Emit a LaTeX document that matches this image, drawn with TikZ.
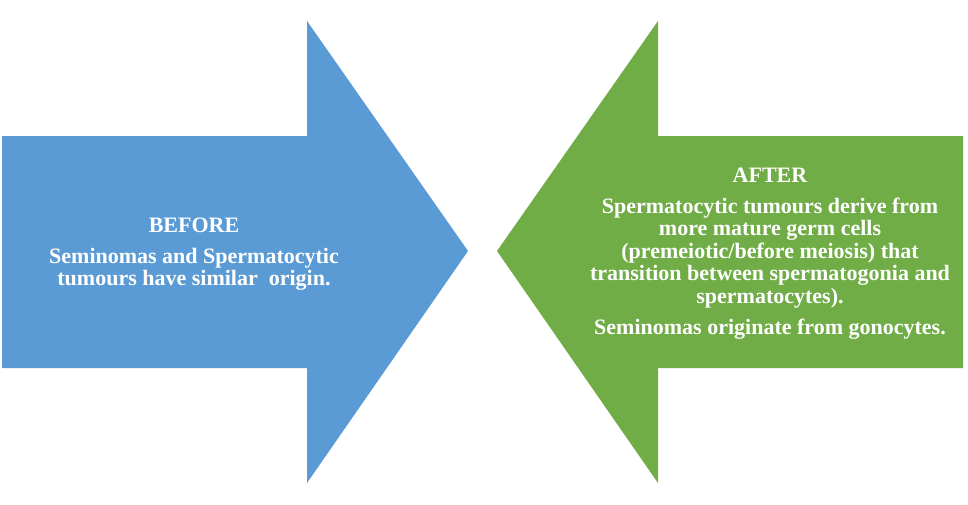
\documentclass[tikz,border=0pt]{standalone}
\usepackage{fontspec}
\setmainfont{Liberation Serif}
\begin{document}
\begin{tikzpicture}[x=1pt,y=-1pt,
  txt/.style={text=white,font=\fontsize{22}{22.5}\selectfont\bfseries,inner sep=0pt,anchor=base}]
\definecolor{arrowblue}{RGB}{91,155,213}
\definecolor{arrowgreen}{RGB}{112,173,71}
\useasboundingbox (0,0) rectangle (968,504);
\fill[white] (0,0) rectangle (968,504);
% blue arrow
\fill[arrowblue] (2,136) -- (307,136) -- (307,21) -- (468,251) -- (307,483) -- (307,368) -- (2,368) -- cycle;
% green arrow
\fill[arrowgreen] (963,136) -- (658,136) -- (658,21) -- (497,251) -- (658,483) -- (658,368) -- (963,368) -- cycle;
% before text
\node[txt] (b1) at (194,232) {BEFORE};
\node[txt] (b2) at (194,263) {Seminomas and Spermatocytic};
\node[txt] (b3) at (194,285) {tumours have similar\ \ origin.};
% after text
\node[txt] (a1) at (770,182) {AFTER};
\node[txt] (a2) at (770,213) {Spermatocytic tumours derive from};
\node[txt] (a3) at (770,235.5) {more mature germ cells};
\node[txt] (a4) at (770,258) {(premeiotic/before meiosis) that};
\node[txt] (a5) at (770,280.5) {transition\ between spermatogonia and};
\node[txt] (a6) at (770,303) {spermatocytes).};
\node[txt] (a7) at (770,334) {Seminomas originate from gonocytes.};
\end{tikzpicture}
\end{document}
